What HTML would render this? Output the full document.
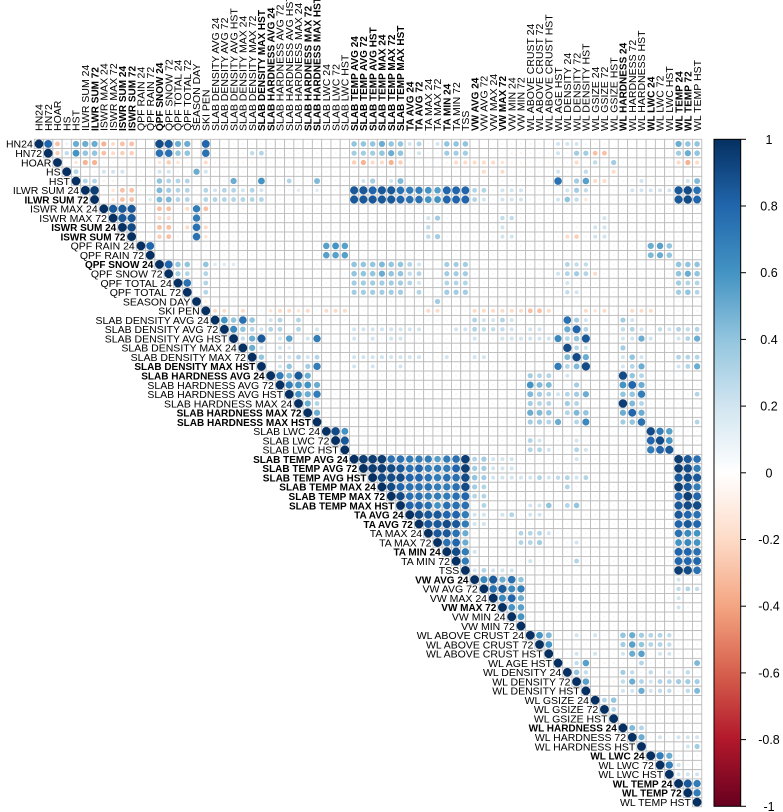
<!DOCTYPE html>
<html><head><meta charset="utf-8">
<style>
html,body{margin:0;padding:0;background:#fff;}
svg{display:block;font-family:"Liberation Sans",Arial,sans-serif;}
</style></head>
<body>
<svg id="chart" width="783" height="812" viewBox="0 0 783 812" xmlns="http://www.w3.org/2000/svg">
<defs>
<linearGradient id="cbGrad" x1="0" y1="0" x2="0" y2="1">
<stop offset="0" stop-color="#053061"/><stop offset="0.1" stop-color="#2166AC"/><stop offset="0.2" stop-color="#4393C3"/><stop offset="0.3" stop-color="#92C5DE"/><stop offset="0.4" stop-color="#D1E5F0"/><stop offset="0.5" stop-color="#FFFFFF"/><stop offset="0.6" stop-color="#FDDBC7"/><stop offset="0.7" stop-color="#F4A582"/><stop offset="0.8" stop-color="#D6604D"/><stop offset="0.9" stop-color="#B2182B"/><stop offset="1" stop-color="#67001F"/>
</linearGradient>
</defs>
<g id="grid"></g>
<g id="marks"></g>
<g id="rowLabels"></g>
<g id="colLabels"></g>
<g id="legend">
<rect x="714" y="139.3" width="26.7" height="667" fill="url(#cbGrad)" stroke="#000" stroke-width="1"/>
</g>
</svg>
<script>
const variables = ["HN24","HN72","HOAR","HS","HST","ILWR SUM 24","ILWR SUM 72","ISWR MAX 24","ISWR MAX 72","ISWR SUM 24","ISWR SUM 72","QPF RAIN 24","QPF RAIN 72","QPF SNOW 24","QPF SNOW 72","QPF TOTAL 24","QPF TOTAL 72","SEASON DAY","SKI PEN","SLAB DENSITY AVG 24","SLAB DENSITY AVG 72","SLAB DENSITY AVG HST","SLAB DENSITY MAX 24","SLAB DENSITY MAX 72","SLAB DENSITY MAX HST","SLAB HARDNESS AVG 24","SLAB HARDNESS AVG 72","SLAB HARDNESS AVG HST","SLAB HARDNESS MAX 24","SLAB HARDNESS MAX 72","SLAB HARDNESS MAX HST","SLAB LWC 24","SLAB LWC 72","SLAB LWC HST","SLAB TEMP AVG 24","SLAB TEMP AVG 72","SLAB TEMP AVG HST","SLAB TEMP MAX 24","SLAB TEMP MAX 72","SLAB TEMP MAX HST","TA AVG 24","TA AVG 72","TA MAX 24","TA MAX 72","TA MIN 24","TA MIN 72","TSS","VW AVG 24","VW AVG 72","VW MAX 24","VW MAX 72","VW MIN 24","VW MIN 72","WL ABOVE CRUST 24","WL ABOVE CRUST 72","WL ABOVE CRUST HST","WL AGE HST","WL DENSITY 24","WL DENSITY 72","WL DENSITY HST","WL GSIZE 24","WL GSIZE 72","WL GSIZE HST","WL HARDNESS 24","WL HARDNESS 72","WL HARDNESS HST","WL LWC 24","WL LWC 72","WL LWC HST","WL TEMP 24","WL TEMP 72","WL TEMP HST"];
const boldVars = [6,9,10,13,24,25,29,30,34,35,36,37,38,39,40,41,44,47,50,63,66,69,70];
const defaultSmall = 0.06;
// per-row correlations "col:value" (upper triangle, diagonal = 1, unlisted = near zero)
const corrRows = [
"1:.8 2:-.3 3:.1 4:.5 5:.5 6:.5 7:-.35 8:-.2 9:-.3 10:-.3 11:0 12:0 13:.9 14:.85 15:.5 16:.5 17:0 18:.8 34:.4 35:.4 36:.4 37:.5 38:.4 39:.4 40:.2 41:.3 43:.2 44:.4 45:.4 46:.4 47:0 48:0 49:0 53:-.08 56:.2 57:.2 58:.2 60:-.08 61:-.08 62:0 63:0 64:0 65:0 66:0 67:0 68:0 69:.5 70:.4 71:.4",
"2:-.25 3:.25 4:.6 5:.4 6:.4 7:-.3 8:-.2 9:-.25 10:-.25 11:0 12:0 13:.75 14:.75 15:.4 16:.4 17:0 18:.75 23:.25 24:.3 34:.35 35:.35 36:.35 37:.4 38:.5 39:.4 41:.2 44:.35 45:.35 46:.35 47:0 48:0 49:0 51:-.08 52:-.08 56:.2 58:.35 59:.35 60:-.3 61:-.3 62:0 63:0 64:0 65:0 66:0 67:0 68:0 69:.35 70:.5 71:.4",
"4:-.15 5:-.35 6:-.35 9:-.08 10:-.08 13:-.15 14:-.25 15:-.15 16:-.08 18:-.2 19:-.08 20:-.08 21:-.08 22:-.08 23:-.08 24:-.08 34:-.25 35:-.35 36:-.2 37:-.2 38:-.35 39:-.25 44:-.08 45:-.2 46:-.2 47:-.2 48:-.2 49:-.2 50:-.15 51:-.08 52:-.08 55:-.08 56:-.08 58:-.2 60:.25 62:.35 69:-.2 70:-.35 71:-.2",
"4:.3 7:.2 8:.2 9:.2 13:.2 14:.2 17:.5 18:.2 48:-.2 50:-.2 56:.2 59:.25 62:-.2",
"5:.3 6:.3 7:-.08 8:-.08 13:.4 14:.3 15:.3 16:.3 21:.5 24:.6 27:.3 30:.45 35:.2 36:.35 38:.2 39:.45 56:.75 58:.35 59:.55 60:-.2 61:-.2 65:.2 70:.2 71:.45",
"6:.95 8:-.15 9:-.3 10:-.3 13:.45 14:.35 15:.3 16:.3 18:.3 19:.2 20:.3 21:.3 22:.2 23:.3 24:.2 28:.15 30:.15 34:.85 35:.85 36:.8 37:.85 38:.85 39:.75 40:.7 41:.7 42:.6 43:.55 44:.8 45:.8 46:.8 47:.3 48:.3 50:.2 51:.2 52:.2 57:.2 58:.35 59:.25 64:.2 65:.2 66:.2 67:.2 68:.2 69:.85 70:.9 71:.75",
"8:-.15 9:-.3 10:-.3 12:.15 13:.45 14:.45 15:.3 16:.3 18:.3 19:.3 20:.3 21:.3 22:.3 23:.3 24:.3 34:.85 35:.85 36:.85 37:.85 38:.85 39:.8 40:.75 41:.75 42:.6 43:.6 44:.8 45:.8 46:.8 47:.3 48:.2 50:.2 51:.2 52:.2 56:.2 57:.4 58:.25 59:-.15 69:.85 70:.9 71:.8",
"8:.85 9:.85 10:.85 13:-.3 14:-.3 16:-.2 17:.7 18:-.3 20:-.08 22:-.08 23:-.08",
"9:.85 10:.85 13:-.2 14:-.2 17:.7 42:.2 43:.35 50:.25 51:.25 61:.2",
"10:.9 13:-.3 14:-.3 16:-.2 17:.75 18:-.2 42:.25 50:.2 58:-.08 60:.2 61:.2",
"13:-.25 14:-.3 17:.75 18:-.15 42:.25 43:.35 50:.2 51:.2 57:-.2 58:-.25 60:.2 61:.2",
"12:.8 31:.55 32:.6 33:.55 66:.5 67:.55 68:.4",
"31:.55 32:.55 33:.55 66:.45 67:.5 68:.4",
"14:.8 15:.4 16:.4 18:.4 19:.15 20:.15 21:.15 34:.4 35:.4 36:.4 37:.45 38:.4 39:.4 40:.3 41:.2 44:.35 45:.35 46:.35 57:.3 58:.25 59:.25 69:.4 70:.4 71:.4",
"15:.35 16:.3 18:.3 34:.4 35:.4 36:.4 37:.5 38:.4 39:.4 40:.25 41:.3 44:.35 45:.35 46:.35 56:.2 57:.3 58:.35 59:.3 60:-.2 69:.4 70:.5 71:.4",
"16:.75 18:.3 34:.35 35:.35 36:.35 37:.35 38:.35 39:.35 40:.3 41:.2 44:.3 45:.3 46:.3 57:.2 69:.35 70:.3 71:.3",
"18:.3 34:.35 35:.35 36:.35 37:.35 38:.35 39:.35 41:.3 44:.35 45:.35 46:.35 57:.25 58:.2 69:.35 70:.4 71:.3",
"18:-.1 43:.35",
"19:-.2 20:-.2 22:-.2 25:-.15 26:-.2 27:-.2 28:-.15 29:-.2 31:-.2 32:-.2 33:-.2 42:-.2 43:-.2 47:-.2 48:-.2 49:-.2 50:-.2 51:-.2 52:-.2 53:-.3 54:-.3 55:-.2 59:-.2 60:-.15 61:-.2 64:-.2 65:-.2 66:-.2",
"20:.6 21:.4 22:.75 23:.4 25:.2 26:.3 28:.3 47:.3 48:.2 49:.2 50:.3 51:.2 57:.75 58:.35 59:.2 63:.35 64:.2",
"21:.65 22:.4 23:.3 24:.2 25:.3 26:.3 28:.3 30:.2 34:.2 35:.2 36:.2 37:.2 38:.2 39:.2 40:.2 41:.2 45:.2 46:.2 47:.3 48:.25 49:.25 50:.25 51:.2 53:.2 54:.2 57:.5 58:.8 59:.3 63:.25 64:.3 65:.2 67:.25 68:.2 69:.3 70:.25 71:.3",
"22:.25 23:.5 24:.85 26:.2 27:.55 29:.2 30:.7 34:.2 36:.2 38:.2 39:.2 47:.2 50:.2 51:.2 52:.2 53:.2 54:.2 55:.2 56:.65 57:.3 58:.4 59:.85 63:.2 64:.2 65:.5 66:.2 69:.2 70:.3 71:.5",
"23:.5 24:.2 26:.2 27:.15 57:.9 58:.3 59:.2 63:.35",
"24:.4 26:.2 27:.2 28:.3 29:.2 30:.3 34:.2 35:.2 36:.2 37:.2 38:.2 39:.2 40:.2 41:.2 44:.2 47:.2 48:.2 57:.45 58:.9 59:.5 63:.2 64:.4 65:.2 69:.3 70:.3 71:.3",
"26:.2 27:.4 29:.35 30:.7 34:.2 36:.2 39:.2 56:.7 57:.3 58:.45 59:.9 63:.2 64:.3 65:.5 69:.2 70:.3 71:.5",
"26:.7 27:.45 28:.85 29:.5 53:.35 54:.3 55:.3 57:.2 63:.9 64:.4 65:.3",
"27:.7 28:.6 29:.6 30:.5 53:.6 54:.45 55:.45 58:.35 63:.6 64:.8 65:.5",
"28:.6 29:.5 30:.7 53:.45 54:.35 55:.3 56:.2 57:.3 58:.35 59:.5 63:.4 64:.4 65:.7 71:.3",
"29:.5 30:.3 53:.35 54:.3 55:.3 57:.35 58:.3 63:.95 64:.45 65:.3",
"30:.5 53:.5 54:.45 55:.4 57:.3 58:.45 59:.4 63:.5 64:.8 65:.5",
"53:.35 54:.35 55:.3 56:.5 58:.3 59:.65 63:.35 64:.4 65:.75 71:.3",
"32:.9 33:.6 66:.9 67:.7 68:.55",
"33:.85 53:.3 54:.2 58:.2 66:.8 67:.9 68:.6",
"53:.3 54:.3 55:.2 58:.3 59:.2 66:.7 67:.8 68:.85",
"35:.95 36:.95 37:.95 38:.75 39:.75 40:.7 41:.7 42:.7 43:.55 44:.7 45:.75 46:.95 47:.3 48:.35 49:.2 50:.2 51:.2 58:.2 69:.95 70:.85 71:.75",
"36:.95 37:.95 38:.9 39:.85 40:.75 41:.8 42:.7 43:.7 44:.7 45:.8 46:.95 47:.35 48:.35 49:.2 50:.2 51:.2 69:.95 70:.9 71:.7",
"37:.9 38:.9 39:.9 40:.8 41:.8 42:.75 43:.7 44:.75 45:.75 46:.9 47:.4 48:.35 49:.2 50:.2 51:.2 52:.2 53:.2 54:.3 55:.2 56:.25 57:.3 58:.2 59:.3 69:.85 70:.9 71:.85",
"38:.9 39:.8 40:.75 41:.75 42:.75 43:.7 44:.7 45:.75 46:.9 47:.35 48:.3 57:.3 69:.95 70:.85 71:.7",
"39:.9 40:.75 41:.75 42:.7 43:.7 44:.7 45:.75 46:.8 47:.3 48:.3 69:.8 70:.95 71:.8",
"40:.8 41:.8 42:.75 43:.6 44:.75 45:.75 46:.75 48:.3 53:.2 54:.2 55:.4 57:.3 58:.4 69:.85 70:.9 71:.9",
"41:.9 42:.85 43:.85 44:.8 45:.8 46:.7 47:.2 48:.2 50:.2 51:.3 53:.2 54:.2 69:.85 70:.8 71:.75",
"42:.85 43:.85 44:.9 45:.85 46:.7 47:.2 48:.2 69:.8 70:.85 71:.8",
"43:.85 44:.85 45:.75 46:.5 47:-.08 50:-.08 52:.3 53:.3 54:.3 55:.2 69:.75 70:.65 71:.6",
"44:.75 45:.8 46:.5 52:.3 53:.3 54:.35 58:.2 69:.6 70:.65 71:.6",
"45:.9 46:.7 47:.2 69:.8 70:.8 71:.75",
"46:.7 53:.2 58:.3 69:.8 70:.8 71:.8",
"47:.2 48:.3 49:.2 50:.2 51:.2 69:.95 70:.9 71:.75",
"48:.65 49:.85 50:.5 51:.75 52:.4 69:.2",
"49:.75 50:.85 51:.65 52:.7 69:.25 70:.3 71:.25",
"50:.65 51:.8 52:.5 69:.2",
"51:.6 52:.55 69:.2",
"52:.6",
"",
"54:.6 55:.45 58:.2 60:.2 63:.4 64:.5 65:.35 66:.3 67:.3 68:.25",
"55:.6 63:.35 64:.55 65:.4 66:.3 67:.3 68:.25",
"58:.2 60:.2 63:.2 64:.5 65:.55 67:.2 68:.2",
"58:.25 59:.55 60:-.08 61:-.08 62:-.08 65:.3 71:.45",
"58:.4 59:.25 63:.35 64:.25 66:.25 68:.2 70:.25",
"59:.55 60:-.08 61:-.08 62:-.08 63:.25 64:.5 65:.3 66:.2 67:.3 68:.3 69:.35 70:.35 71:.35",
"60:-.08 61:-.08 62:-.08 63:.2 64:.2 65:.5 66:.2 67:.25 68:.25 70:.25 71:.45",
"61:.3 62:.4 70:-.08",
"62:.3",
"",
"64:.45 65:.3",
"65:.5 67:.2 69:.2 70:.2 71:.2",
"70:.2 71:.35",
"67:.7 68:.5",
"68:.7 69:.2",
"69:.2 70:.2 71:.2",
"70:.85 71:.7",
"71:.7",
""
];
const tickValues = [1,0.8,0.6,0.4,0.2,0,-0.2,-0.4,-0.6,-0.8,-1];
const tickLabels = ["1","0.8","0.6","0.4","0.2","0","-0.2","-0.4","-0.6","-0.8","-1"];

const NS = "http://www.w3.org/2000/svg";
const N = variables.length;
const gx0 = 34.3, gy0 = 139.3, cell = 9.27;
function xPos(c){ return gx0 + cell*(c+0.5); }
function yPos(r){ return gy0 + cell*(r+0.5); }
function cbY(v){ return 139.3 + (1 - v) / 2 * 667; }
const pal = ["#67001F","#B2182B","#D6604D","#F4A582","#FDDBC7","#FFFFFF","#D1E5F0","#92C5DE","#4393C3","#2166AC","#053061"];
function hex2rgb(h){ return [parseInt(h.substr(1,2),16),parseInt(h.substr(3,2),16),parseInt(h.substr(5,2),16)]; }
function colorOf(v){
  const t = (Math.max(-1,Math.min(1,v)) + 1) / 2 * 10;
  const i = Math.min(9, Math.floor(t)), f = t - i;
  const a = hex2rgb(pal[i]), b = hex2rgb(pal[i+1]);
  return "rgb(" + a.map((x,k)=>Math.round(x + (b[k]-x)*f)).join(",") + ")";
}
function mk(tag, attrs){ const e = document.createElementNS(NS, tag); for (const k in attrs) e.setAttribute(k, attrs[k]); return e; }

const matrix = [];
for (let r = 0; r < N; r++) {
  const row = new Array(N).fill(defaultSmall);
  row[r] = 1;
  (corrRows[r] || "").trim().split(/\s+/).forEach(p => {
    if (!p) return;
    const [c, v] = p.split(":");
    row[+c] = parseFloat(v);
  });
  matrix.push(row);
}

const grid = document.getElementById("grid"), marks = document.getElementById("marks");
for (let r = 0; r < N; r++) {
  for (let c = r; c < N; c++) {
    const rc = mk("rect", {x: gx0 + cell*c, y: gy0 + cell*r, width: cell, height: cell, fill: "#fff", stroke: "#bdbdbd", "stroke-width": 0.9});
    
    
    grid.appendChild(rc);
    const v = matrix[r][c];
    if (v === 0) continue;
    const rad = 4.4 * Math.sqrt(Math.abs(v));
    const ci = mk("circle", {cx: xPos(c), cy: yPos(r), r: rad, fill: colorOf(v)});
    
    
    marks.appendChild(ci);
  }
}

const rowG = document.getElementById("rowLabels"), colG = document.getElementById("colLabels");
variables.forEach((name, i) => {
  const bold = boldVars.indexOf(i) >= 0;
  const fs = bold ? "10" : "10.5";
  const t = mk("text", {x: gx0 + cell*i - 1.5, y: yPos(i) + 3.8, "text-anchor": "end", "font-size": fs, "font-weight": bold ? "bold" : "normal", fill: "#000"});
  t.textContent = name;
  
  
  rowG.appendChild(t);
  const t2 = mk("text", {x: 0, y: 0, transform: "translate(" + (xPos(i) + 3.7) + ",131) rotate(-90)", "text-anchor": "start", "font-size": fs, "font-weight": bold ? "bold" : "normal", fill: "#000"});
  t2.textContent = name;
  
  
  colG.appendChild(t2);
});

const leg = document.getElementById("legend");
tickValues.forEach((v, i) => {
  const y = cbY(v);
  const ln = mk("line", {x1: 740.7, x2: 746, y1: y, y2: y, stroke: "#000", "stroke-width": 1});
  
  
  leg.appendChild(ln);
  const t = mk("text", {x: 769, y: y + 4.5, "text-anchor": "middle", "font-size": "12.5", fill: "#000"});
  t.textContent = tickLabels[i];
  
  
  leg.appendChild(t);
});
</script>
</body></html>
